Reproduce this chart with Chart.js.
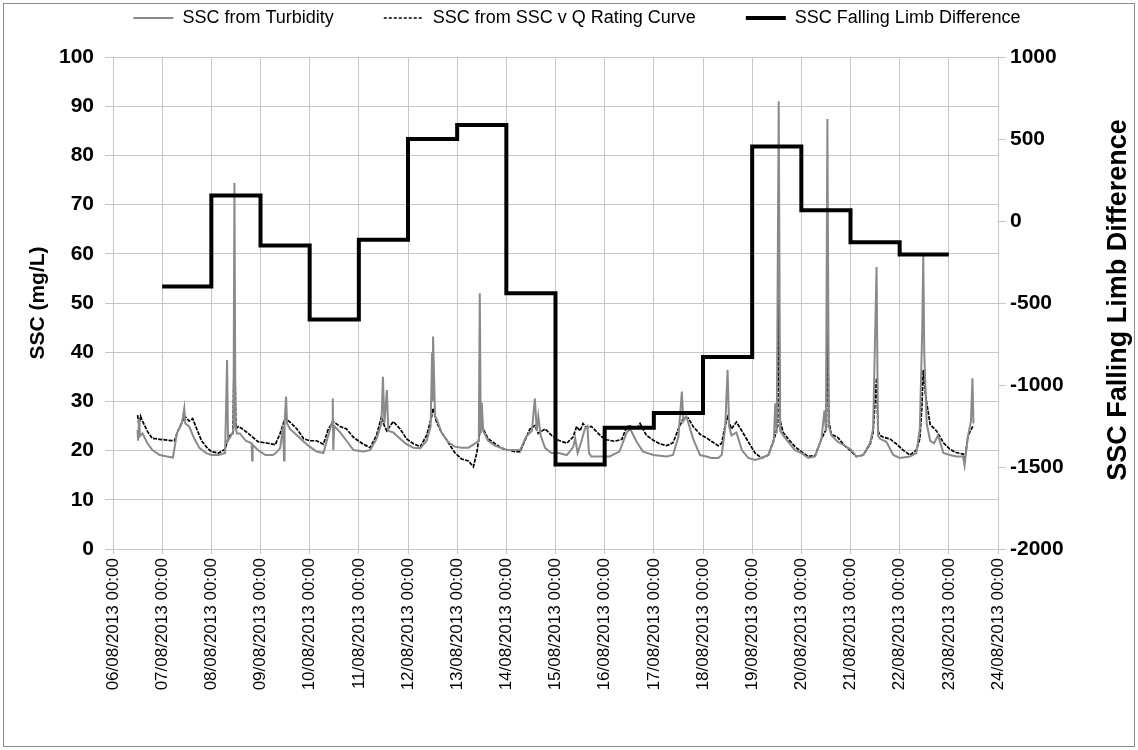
<!DOCTYPE html>
<html><head><meta charset="utf-8">
<script src="https://cdn.jsdelivr.net/npm/chart.js@4.4.0/dist/chart.umd.min.js"></script>
<style>html,body{margin:0;padding:0;background:#fff;}</style>
</head><body>
<canvas id="c" width="1138" height="750"></canvas>
<script>
const dateLabels = ["06/08/2013 00:00","07/08/2013 00:00","08/08/2013 00:00","09/08/2013 00:00","10/08/2013 00:00","11/08/2013 00:00","12/08/2013 00:00","13/08/2013 00:00","14/08/2013 00:00","15/08/2013 00:00","16/08/2013 00:00","17/08/2013 00:00","18/08/2013 00:00","19/08/2013 00:00","20/08/2013 00:00","21/08/2013 00:00","22/08/2013 00:00","23/08/2013 00:00","24/08/2013 00:00"];

// days since 06/08/2013 00:00
const turbDays = [0.50,0.51,0.53,0.55,0.60,0.70,0.80,0.95,1.10,1.22,1.30,1.40,1.45,1.47,1.55,1.65,1.76,1.90,2.00,2.15,2.28,2.32,2.34,2.40,2.45,2.47,2.49,2.52,2.58,2.70,2.82,2.83,2.84,2.95,3.10,3.25,3.30,3.40,3.46,3.48,3.49,3.52,3.54,3.60,3.74,3.88,4.00,4.14,4.28,4.38,4.46,4.47,4.48,4.50,4.62,4.75,4.89,5.09,5.23,5.36,5.46,5.49,5.52,5.57,5.60,5.70,5.84,5.97,6.11,6.25,6.38,6.46,6.49,6.50,6.51,6.53,6.55,6.58,6.68,6.81,6.95,7.09,7.23,7.36,7.44,7.46,7.48,7.50,7.53,7.63,7.77,7.90,8.04,8.28,8.40,8.52,8.58,8.62,8.65,8.70,8.79,8.92,9.06,9.23,9.36,9.40,9.45,9.50,9.60,9.65,9.68,9.73,9.90,10.10,10.30,10.45,10.52,10.65,10.78,10.99,11.26,11.39,11.50,11.57,11.60,11.66,11.80,11.94,12.07,12.17,12.31,12.38,12.45,12.50,12.53,12.58,12.68,12.79,12.92,13.06,13.19,13.33,13.44,13.47,13.50,13.54,13.57,13.63,13.73,13.87,14.00,14.14,14.28,14.41,14.47,14.50,14.53,14.56,14.61,14.74,14.88,15.02,15.12,15.26,15.40,15.46,15.53,15.56,15.60,15.73,15.87,16.00,16.21,16.34,16.41,16.46,16.48,16.50,16.55,16.62,16.70,16.78,16.89,17.02,17.15,17.29,17.32,17.39,17.45,17.48,17.50];
const turbValues = [24.2,22.0,26.5,23.0,23.5,21.5,20.1,19.1,18.8,18.6,23.5,25.5,28.6,25.5,24.9,22.5,20.5,19.5,19.1,19.1,19.5,38.4,22.0,23.0,24.0,74.4,25.0,23.5,23.5,22.0,21.5,18.0,21.2,20.1,19.1,19.1,19.4,20.5,24.9,18.0,25.5,31.0,25.5,24.4,23.1,21.8,20.8,19.8,19.5,23.1,25.9,30.6,20.1,25.0,23.7,22.0,20.1,19.8,20.1,22.4,25.5,35.0,25.5,32.3,24.0,23.7,22.4,21.3,20.6,20.5,22.0,24.9,40.0,30.0,43.2,35.0,27.0,26.5,23.7,21.8,20.8,20.6,20.6,21.4,22.0,52.0,23.5,29.7,24.0,22.0,21.0,20.5,20.1,20.1,22.8,24.0,30.6,24.0,27.0,23.0,20.5,19.5,19.5,19.1,20.7,22.5,19.5,21.0,24.5,25.0,19.5,18.8,18.8,18.8,19.8,23.7,24.4,21.8,19.8,19.1,18.8,19.1,22.8,32.0,26.0,27.0,22.4,19.1,18.8,18.5,18.5,19.1,24.4,36.4,25.0,23.1,23.7,20.1,18.5,18.1,18.5,19.1,22.0,29.6,23.5,91.0,24.0,23.1,21.8,20.1,19.5,18.5,18.8,22.4,28.2,24.0,87.4,25.0,23.1,21.8,21.0,20.1,18.8,19.1,21.6,24.4,57.3,23.0,22.4,21.8,19.1,18.5,18.8,19.5,24.4,45.0,59.8,40.0,25.5,22.0,21.5,23.1,19.5,19.1,18.8,18.8,17.0,23.0,26.0,34.7,25.5];

const ratingDays = [0.50,0.53,0.56,0.60,0.70,0.80,0.95,1.12,1.25,1.32,1.46,1.55,1.62,1.80,1.92,2.00,2.15,2.28,2.35,2.44,2.47,2.50,2.55,2.62,2.75,2.95,3.15,3.30,3.40,3.50,3.60,3.74,3.88,4.00,4.14,4.28,4.38,4.48,4.62,4.75,4.89,5.09,5.23,5.36,5.46,5.52,5.57,5.70,5.84,5.97,6.11,6.25,6.38,6.48,6.51,6.58,6.68,6.81,6.95,7.09,7.23,7.33,7.40,7.46,7.50,7.63,7.77,7.90,8.04,8.18,8.28,8.35,8.48,8.58,8.65,8.79,8.92,9.06,9.23,9.36,9.43,9.50,9.56,9.63,9.73,9.84,9.94,10.04,10.20,10.35,10.45,10.55,10.65,10.72,10.85,10.99,11.12,11.26,11.39,11.50,11.60,11.70,11.80,11.94,12.07,12.17,12.31,12.38,12.45,12.50,12.58,12.68,12.79,12.92,13.06,13.19,13.33,13.46,13.52,13.54,13.57,13.63,13.73,13.87,14.00,14.14,14.28,14.41,14.51,14.53,14.56,14.61,14.74,14.88,15.02,15.12,15.26,15.40,15.46,15.53,15.56,15.60,15.67,15.80,15.94,16.07,16.21,16.34,16.41,16.45,16.48,16.52,16.55,16.62,16.75,16.89,17.02,17.15,17.29,17.32,17.39,17.49];
const ratingValues = [27.2,25.0,27.0,26.0,23.9,22.5,22.3,22.1,22.0,24.0,27.0,26.0,26.5,22.0,20.5,19.8,19.5,20.3,22.8,23.5,43.5,24.5,24.9,24.5,23.5,21.8,21.5,21.2,23.5,26.6,25.8,24.4,22.4,22.0,22.0,21.3,24.4,25.9,24.9,24.4,22.7,21.3,20.6,23.1,26.9,25.0,24.0,25.9,24.4,22.4,21.4,20.8,23.1,26.9,28.6,25.8,23.7,21.8,19.6,18.3,17.9,16.7,19.6,23.7,25.0,22.4,21.4,20.5,20.1,19.8,19.8,21.4,24.4,25.1,23.5,24.4,23.1,22.1,21.5,22.8,24.9,24.0,25.5,24.7,24.9,23.8,22.8,22.2,21.9,22.3,24.9,25.0,24.4,25.5,23.1,22.1,21.4,21.0,21.6,24.4,26.6,26.6,24.9,23.3,22.6,21.9,21.0,21.5,25.1,26.8,24.4,25.8,24.0,21.8,19.5,18.5,19.1,22.8,25.0,50.6,26.0,23.7,22.4,20.8,19.8,18.8,19.0,22.4,24.4,47.6,26.0,23.3,22.7,21.0,19.8,18.8,19.1,21.3,23.7,34.7,24.0,23.1,22.7,22.4,21.3,20.1,19.1,20.1,22.4,28.5,36.4,32.0,29.7,25.3,24.0,21.6,20.3,19.6,19.3,17.9,23.0,25.0];

const stepDays = [1,2,3,4,5,6,7,8,9,10,11,12,13,14,15,16,17];
const stepValues = [-400,155,-150,-600,-115,500,585,-440,-1485,-1260,-1170,-830,455,65,-130,-205,-205];

const leftTicks = {min:0, max:100, step:10};
const rightTicks = {min:-2000, max:1000, step:500};

const FONT = "'Liberation Sans', Arial, sans-serif";
Chart.defaults.font.family = FONT;
Chart.defaults.color = '#000';

const toXY = (xs, ys) => xs.map((x, i) => ({x: x, y: ys[i]}));
const GRID = '#c6c6c6';
const LEG_PAD = 50;
const legendDash = [3, 2];

const legendSpace = {
  id: 'legendSpace',
  beforeInit(chart) {
    const orig = chart.legend.fit;
    chart.legend.fit = function () { orig.bind(chart.legend)(); this.height = 57; };
  },
  afterLayout(chart) {
    const lg = chart.legend;
    lg.top = 18 - 9 - LEG_PAD;
    lg.left += 8; lg.right += 8;
  }
};
const frame = {
  id: 'frame',
  beforeDraw(chart) {
    const ctx = chart.ctx;
    ctx.save();
    ctx.fillStyle = '#fff';
    ctx.fillRect(0, 0, chart.width, chart.height);
    ctx.strokeStyle = '#8c8c8c';
    ctx.lineWidth = 1;
    ctx.strokeRect(3.5, 3.5, chart.width - 7, chart.height - 7);
    ctx.restore();
  },
  afterDraw(chart) {
    const ctx = chart.ctx;
    ctx.save();
    ctx.translate(1119, 300);
    ctx.rotate(-Math.PI / 2);
    ctx.font = "bold 27px " + FONT;
    ctx.fillStyle = '#000';
    ctx.textAlign = 'center';
    ctx.textBaseline = 'middle';
    ctx.fillText('SSC Falling Limb Difference', 0, 0);
    ctx.restore();
  }
};

new Chart(document.getElementById('c'), {
  type: 'line',
  data: {
    datasets: [
      {label: 'SSC from Turbidity', data: toXY(turbDays, turbValues), yAxisID: 'y',
       borderColor: '#8a8a8a', backgroundColor: '#8a8a8a', borderWidth: 2, pointRadius: 0, order: 1},
      {label: 'SSC from SSC v Q Rating Curve', data: toXY(ratingDays, ratingValues), yAxisID: 'y',
       borderColor: '#000', backgroundColor: '#000', borderWidth: 1.7, borderDash: [4, 1.2], pointRadius: 0, order: 2},
      {label: 'SSC Falling Limb Difference', data: toXY(stepDays, stepValues), yAxisID: 'y2',
       borderColor: '#000', backgroundColor: '#000', borderWidth: 4, stepped: 'before', pointRadius: 0, order: 0}
    ]
  },
  options: {
    responsive: false,
    animation: false,
    layout: {padding: 0},
    plugins: {
      tooltip: {enabled: false},
      legend: {
        position: 'top',
        labels: {
          usePointStyle: true, pointStyle: 'line', pointStyleWidth: 40, boxHeight: 18,
          padding: LEG_PAD, font: {size: 18},
          sort: (a, b) => a.datasetIndex - b.datasetIndex,
          generateLabels: chart => {
            const items = Chart.defaults.plugins.legend.labels.generateLabels(chart);
            items.forEach(it => {
              const ds = chart.data.datasets[it.datasetIndex];
              it.lineDash = ds.borderDash ? legendDash : [];
              it.lineWidth = ds.borderDash ? 1.3 : ds.borderWidth;
              it.strokeStyle = ds.borderColor;
            });
            return items;
          }
        }
      }
    },
    scales: {
      x: {
        type: 'linear', min: 0, max: 18,
        afterFit: s => { s.height = 201; },
        afterBuildTicks: s => { s.ticks = dateLabels.map((_, i) => ({value: i})); },
        ticks: {stepSize: 1, autoSkip: false, maxRotation: 90, minRotation: 90, padding: 4,
                font: {size: 17}, callback: v => dateLabels[Math.round(v)]},
        grid: {color: GRID, lineWidth: 1, tickLength: 5},
        border: {color: GRID}
      },
      y: {
        position: 'left', min: leftTicks.min, max: leftTicks.max,
        afterFit: s => { s.width = 113; },
        ticks: {stepSize: leftTicks.step, padding: 11, font: {size: 21, weight: 'bold'},
                callback: v => String(v)},
        grid: {color: GRID, lineWidth: 1, tickLength: 8},
        border: {color: GRID},
        title: {display: true, text: 'SSC (mg/L)', font: {size: 21, weight: 'bold'}, padding: {top: 26, bottom: 0}}
      },
      y2: {
        position: 'right', min: rightTicks.min, max: rightTicks.max,
        afterFit: s => { s.width = 140; },
        ticks: {stepSize: rightTicks.step, padding: 4, font: {size: 21, weight: 'bold'},
                callback: v => String(v)},
        grid: {drawOnChartArea: false, color: GRID, tickLength: 8},
        border: {color: GRID}
      }
    }
  },
  plugins: [legendSpace, frame]
});
</script>
</body></html>
